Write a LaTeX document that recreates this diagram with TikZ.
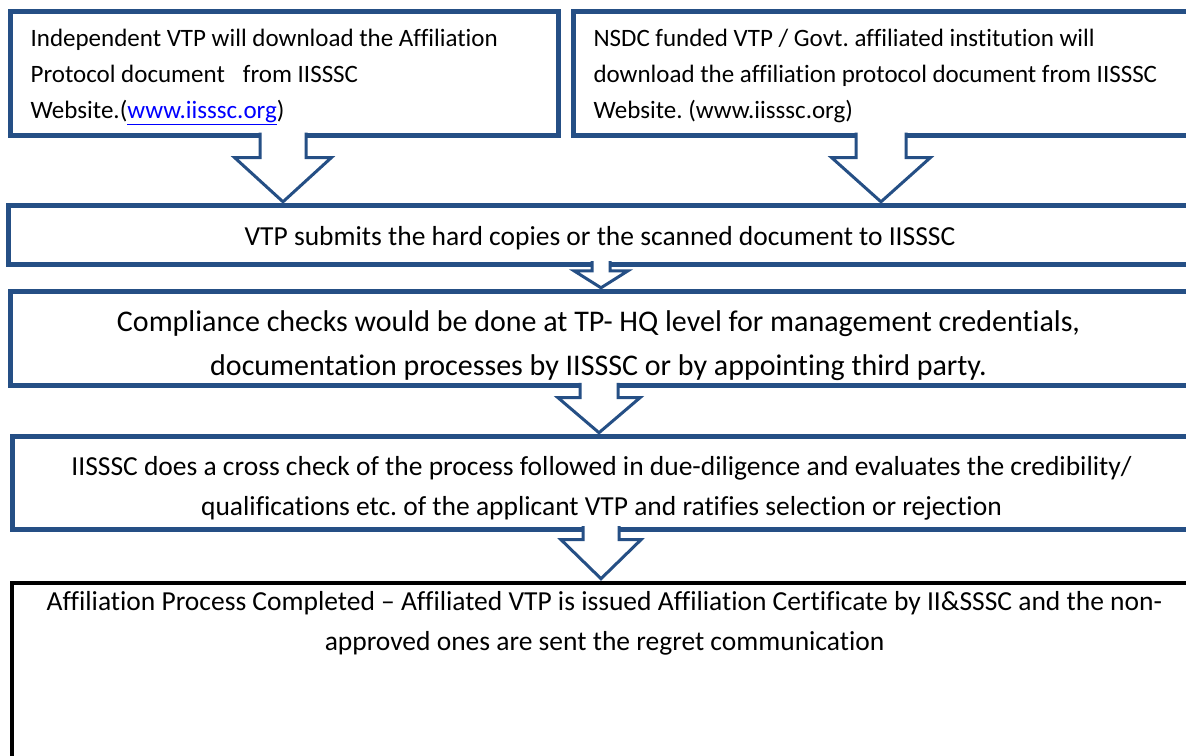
\documentclass[tikz,border=0pt]{standalone}
\usepackage{fontspec}
\setmainfont[Ligatures=NoCommon]{Carlito}
\usetikzlibrary{calc}
\frenchspacing
\definecolor{boxblue}{HTML}{254F85}
\definecolor{linkblue}{HTML}{0000FF}
\tikzset{
  bluebox/.style={draw=boxblue, line width=5pt, fill=none, inner sep=0pt, outer sep=0pt, anchor=north west},
  blackbox/.style={draw=black, line width=4pt, fill=none, inner sep=0pt, outer sep=0pt, anchor=north west},
  barrowline/.style={draw=boxblue, line width=3pt, line join=miter},
  txt/.style={inner sep=0pt, outer sep=0pt, text=black},
}
\newcommand\barrow[6]{%
  \fill[white] let \p1=(#1.south), \p2=(#2.north) in
    (#3-#4,\y1+3pt) -- (#3-#4,\y2+4pt+#6pt) -- (#3-#5,\y2+4pt+#6pt) -- (#3,\y2+4pt)
    -- (#3+#5,\y2+4pt+#6pt) -- (#3+#4,\y2+4pt+#6pt) -- (#3+#4,\y1+3pt) -- cycle;
  \draw[barrowline] let \p1=(#1.south), \p2=(#2.north) in
    (#3-#4,\y1+3pt) -- (#3-#4,\y2+4pt+#6pt) -- (#3-#5,\y2+4pt+#6pt) -- (#3,\y2+4pt)
    -- (#3+#5,\y2+4pt+#6pt) -- (#3+#4,\y2+4pt+#6pt) -- (#3+#4,\y1+3pt);
}
\begin{document}
\begin{tikzpicture}[x=1pt,y=-1pt]
\useasboundingbox (0,0) rectangle (1186,755);
\clip (0,0) rectangle (1186,755);
\fill[white] (0,0) rectangle (1186,755);
% boxes
\node[bluebox, minimum width=548pt, minimum height=124.7pt] (b1) at (10,11) {};
\node[bluebox, minimum width=660pt, minimum height=124.7pt] (b2) at (573,11) {};
\node[bluebox, minimum width=1230pt, minimum height=58.4pt] (b3) at (8,205.8) {};
\node[bluebox, minimum width=1230pt, minimum height=94pt] (b4) at (10,291.8) {};
\node[bluebox, minimum width=1230pt, minimum height=92.5pt] (b5) at (12,436.7) {};
\node[blackbox, minimum width=1230pt, minimum height=250pt] (b6) at (12,582.7) {};
% texts (base anchor = baseline of the last line)
\node[txt, anchor=base west, align=left, font=\fontsize{25}{36}\selectfont] (t1) at (30.6,118.7)
  {Independent VTP will download the Affiliation\\Protocol document\hspace{18pt}from IISSSC\\Website.(\textcolor{linkblue}{\underline{www.iisssc.org}})};
\node[txt, anchor=base west, align=left, font=\fontsize{25}{36}\selectfont] (t2) at (593.5,118.7)
  {NSDC funded VTP / Govt. affiliated institution will\\download the affiliation protocol document from IISSSC\\Website. (www.iisssc.org)};
\node[txt, anchor=base, font=\fontsize{27.5}{40}\selectfont] (t3) at (600,245)
  {VTP submits the hard copies or the scanned document to IISSSC};
\node[txt, anchor=base, align=center, font=\fontsize{30}{44}\selectfont] (t4) at (598.5,375.7)
  {Compliance checks would be done at TP- HQ level for management credentials,\\documentation processes by IISSSC or by appointing third party.};
\node[txt, anchor=base, align=center, font=\fontsize{27.5}{40}\selectfont] (t5) at (601.5,515)
  {IISSSC does a cross check of the process followed in due-diligence and evaluates the credibility/\\qualifications etc. of the applicant VTP and ratifies selection or rejection};
\node[txt, anchor=base, align=center, font=\fontsize{27.5}{40}\selectfont] (t6) at (604.5,650)
  {Affiliation Process Completed – Affiliated VTP is issued Affiliation Certificate by II\&SSSC and the non-\\approved ones are sent the regret communication};
% block arrows
\barrow{b1}{b3}{283}{23}{48.5}{44.3}
\barrow{b2}{b3}{881}{25}{49.5}{44.3}
\barrow{b3}{b4}{601}{9}{27}{17}
\barrow{b4}{b5}{599}{19}{41}{35}
\barrow{b5}{b6}{601}{18}{40}{39}
\end{tikzpicture}
\end{document}
